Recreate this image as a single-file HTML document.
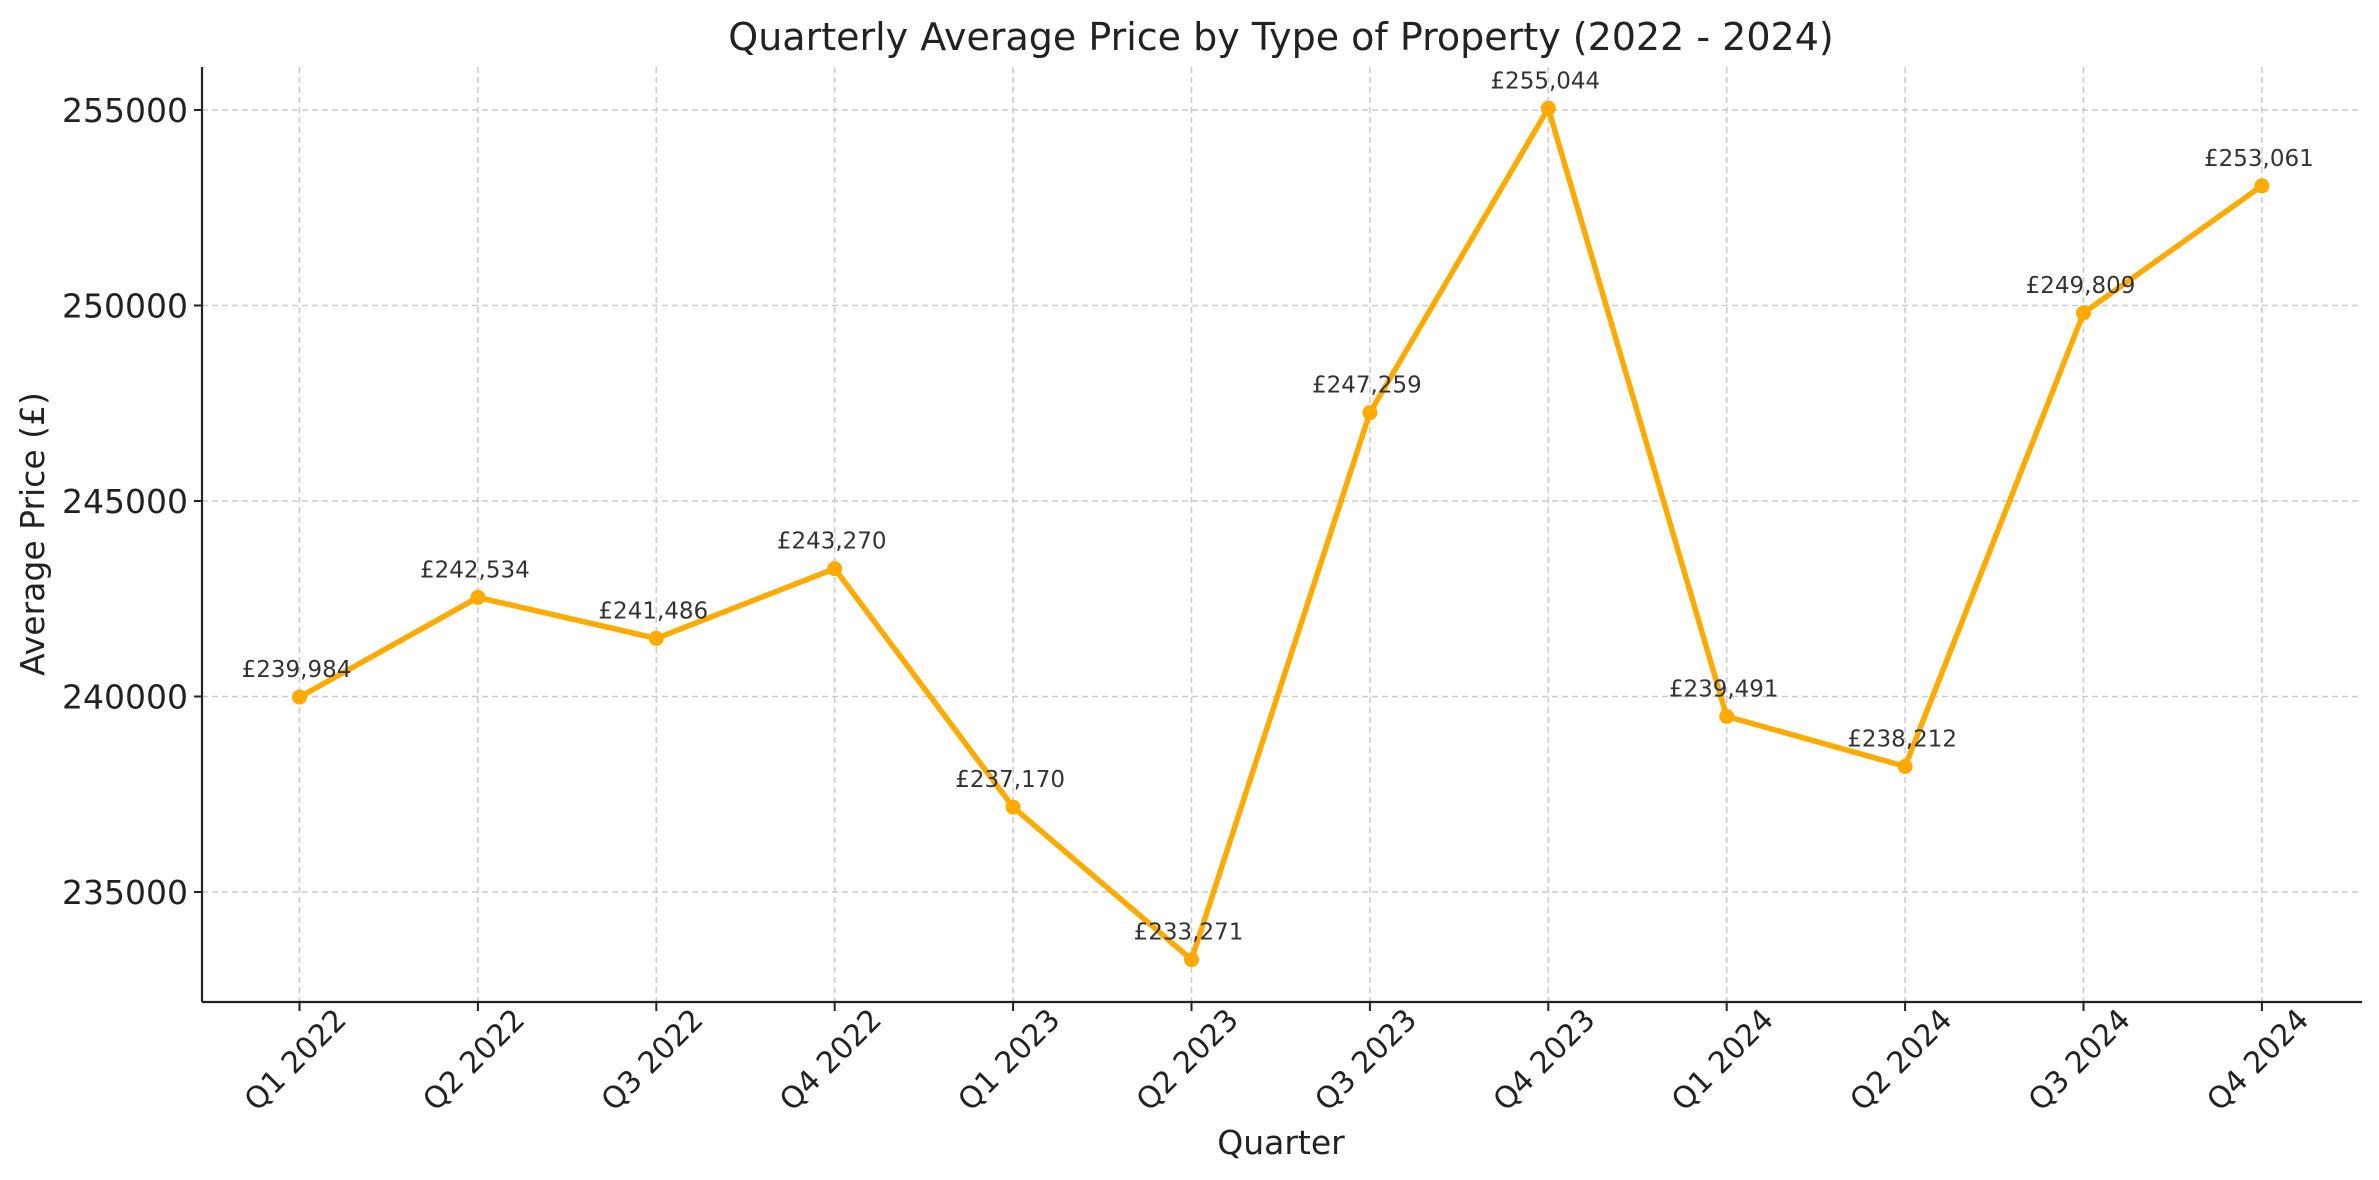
<!DOCTYPE html>
<html><head><meta charset="utf-8"><style>
html,body{margin:0;padding:0;background:#fff;}
svg{display:block;font-family:"DejaVu Sans","Liberation Sans",sans-serif;}
</style></head><body>
<svg id="c" width="2379" height="1180" xmlns="http://www.w3.org/2000/svg"></svg>
<script>
const s=document.getElementById('c');
const L=202,R=2362,T=67,B=1002;
const qs=["Q1 2022","Q2 2022","Q3 2022","Q4 2022","Q1 2023","Q2 2023","Q3 2023","Q4 2023","Q1 2024","Q2 2024","Q3 2024","Q4 2024"];
const v=[239984,242534,241486,243270,237170,233271,247259,255044,239491,238212,249809,253061];
const X=i=>299.5+i*178.4, Y=p=>110+(255000-p)/5000*195.5;
let h='';
h+=`<text x="1281" y="50" font-size="38" text-anchor="middle" fill="#222">Quarterly Average Price by Type of Property (2022 - 2024)</text>`;
for(let k=0;k<5;k++){const p=255000-k*5000,y=Y(p);
h+=`<line x1="${L}" x2="${R}" y1="${y}" y2="${y}" stroke="#ccc" stroke-width="1.6" stroke-dasharray="6,4"/>`;
h+=`<line x1="${L-8}" x2="${L}" y1="${y}" y2="${y}" stroke="#222" stroke-width="2"/>`;
h+=`<text x="${L-14}" y="${y+12}" font-size="33" text-anchor="end" fill="#222">${p}</text>`;}
qs.forEach((q,i)=>{const x=X(i);
h+=`<line x1="${x}" x2="${x}" y1="${T}" y2="${B}" stroke="#ccc" stroke-width="1.6" stroke-dasharray="6,4"/>`;
h+=`<line x1="${x}" x2="${x}" y1="${B}" y2="${B+9}" stroke="#222" stroke-width="2"/>`;
h+=`<text transform="translate(${x-3},1061) rotate(-45)" font-size="30" text-anchor="middle" dominant-baseline="middle" fill="#222">${q}</text>`;});
h+=`<line x1="${L}" x2="${L}" y1="${T}" y2="${B}" stroke="#222" stroke-width="2.2"/>`;
h+=`<line x1="${L}" x2="${R}" y1="${B}" y2="${B}" stroke="#222" stroke-width="2.2"/>`;
h+=`<polyline fill="none" stroke="#FFAA00" stroke-width="5.5" stroke-linejoin="round" points="${v.map((p,i)=>X(i)+','+Y(p)).join(' ')}"/>`;
v.forEach((p,i)=>{h+=`<circle cx="${X(i)}" cy="${Y(p)}" r="7.5" fill="#FFAA00"/>`;
h+=`<text x="${X(i)-3}" y="${Y(p)-20}" font-size="23" text-anchor="middle" fill="#333">£${p.toLocaleString('en-GB')}</text>`;});
h+=`<text transform="translate(44,534) rotate(-90)" font-size="33" text-anchor="middle" fill="#222">Average Price (£)</text>`;
h+=`<text x="1281" y="1154" font-size="33" text-anchor="middle" fill="#222">Quarter</text>`;
s.innerHTML=h;
</script>
</body></html>
